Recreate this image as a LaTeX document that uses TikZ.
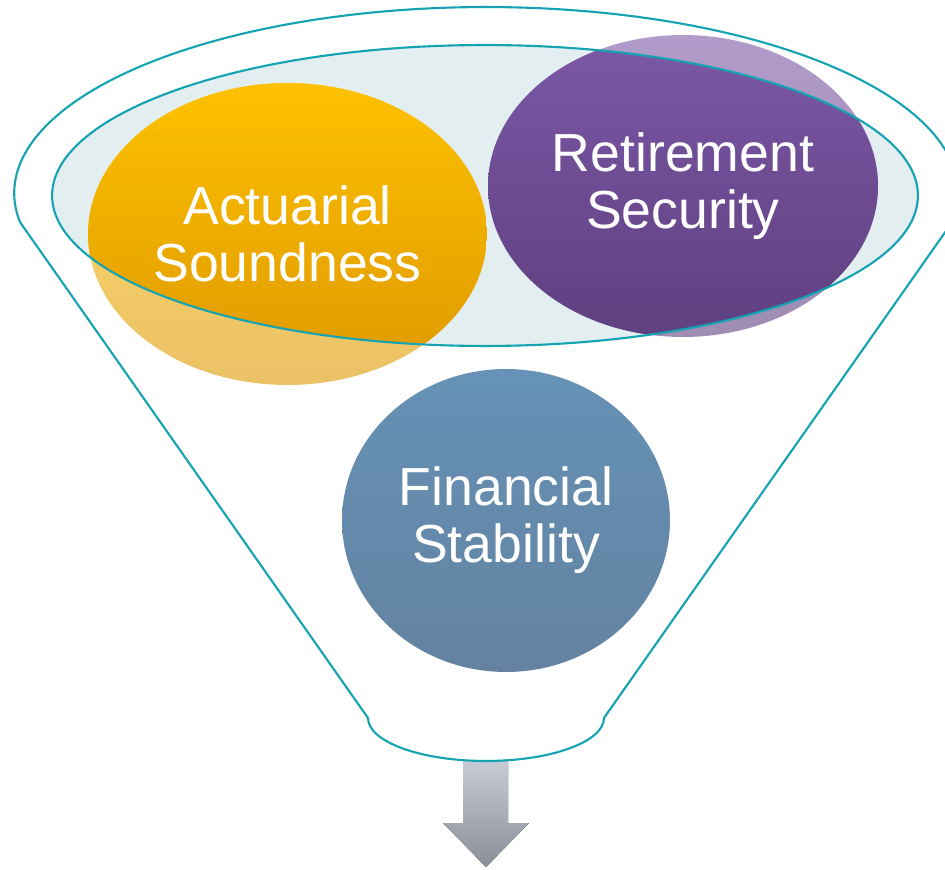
\documentclass[tikz,border=0pt]{standalone}
\usepackage{fontspec}
\setmainfont{Liberation Sans}
\usetikzlibrary{shapes.geometric}
\definecolor{embudo}{RGB}{20,163,178}
\definecolor{hielo}{RGB}{226,238,240}
\definecolor{oroA}{RGB}{253,193,0}
\definecolor{oroB}{RGB}{222,152,0}
\definecolor{moradoA}{RGB}{124,88,166}
\definecolor{moradoB}{RGB}{95,64,128}
\definecolor{azulA}{RGB}{101,146,182}
\definecolor{azulB}{RGB}{100,130,160}
\definecolor{grisA}{RGB}{200,204,213}
\definecolor{grisB}{RGB}{138,142,152}
\tikzset{
  funnel/.style={draw=embudo, line width=1.2pt},
  oro/.style={top color=oroA, bottom color=oroB},
  oroclaro/.style={top color=oroA!60!white, bottom color=oroB!60!white},
  morado/.style={top color=moradoA, bottom color=moradoB},
  moradoclaro/.style={top color=moradoA!60!white, bottom color=moradoB!60!white},
  etiqueta/.style={text=white, align=center, font=\fontsize{30.5}{32.6}\selectfont},
}
\begin{document}
\begin{tikzpicture}[x=0.02cm, y=0.02cm]
\useasboundingbox (0,0) rectangle (945,869);
%
% puntos del embudo
\coordinate (sup) at (486,676);
\coordinate (der) at (952.2,646.9);
\coordinate (izq) at (368,151);
\coordinate (bajo) at (486,151);
\coordinate (act) at (287.5,635);
\coordinate (ret) at (683,683);
%
% flecha de salida
\fill[top color=grisA, bottom color=grisB]
  (463,109) -- (508,109) -- (508,46) -- (529,46) -- (486,2)
  -- (443,46) -- (463,46) -- cycle;
%
% nivel del embudo
\fill[hielo] (485,673.5) ellipse [x radius=8.66cm, y radius=3.01cm];
\path[oroclaro] (act) ellipse [x radius=3.99cm, y radius=3.02cm];
\path[moradoclaro] (ret) ellipse [x radius=3.9cm, y radius=3.02cm];
\begin{scope}
\clip (485,673.5) ellipse [x radius=8.66cm, y radius=3.01cm];
\path[oro] (act) ellipse [x radius=3.99cm, y radius=3.02cm];
\path[morado] (ret) ellipse [x radius=3.9cm, y radius=3.02cm];
\end{scope}
\draw[funnel] (485,673.5) ellipse [x radius=8.66cm, y radius=3.01cm];
%
\node[etiqueta] (a) at (act) {Actuarial\\Soundness};
\node[etiqueta] (r) at (ret) {Retirement\\Security};
\node[etiqueta, ellipse, minimum width=6.56cm, minimum height=6.06cm,
  top color=azulA, bottom color=azulB] (f) at (506,348.5) {Financial\\Stability};
%
% contorno
\draw[funnel] (der) arc [start angle=-9, end angle=189, x radius=9.44cm, y radius=3.72cm]
  -- (izq) arc [start angle=180, end angle=360, x radius=2.36cm, y radius=0.86cm]
  -- cycle;
%
\end{tikzpicture}
\end{document}
